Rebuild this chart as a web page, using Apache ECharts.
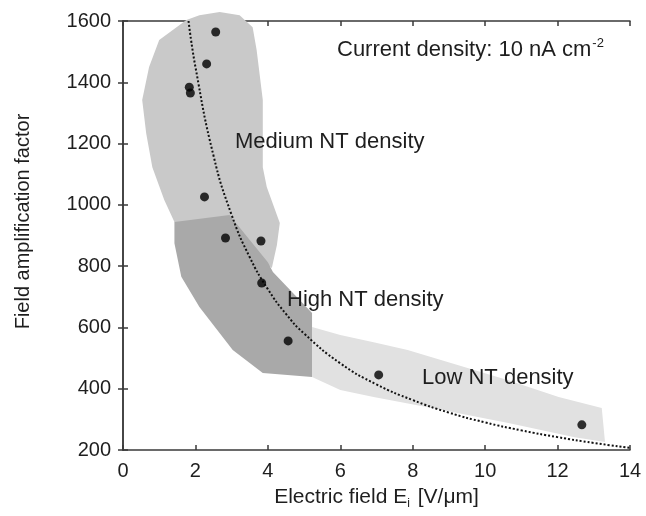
<!DOCTYPE html>
<html>
<head>
<meta charset="utf-8">
<script src="https://cdn.jsdelivr.net/npm/echarts@6/dist/echarts.min.js"></script>
<style>
  html, body { margin: 0; padding: 0; background: #fff; }
  #chart { width: 646px; height: 516px; }
</style>
</head>
<body>
<div id="chart"></div>
<script>
// measured points [E field, amplification factor]
var measured = [
    [2.56, 1564], [2.31, 1460], [1.83, 1384], [1.86, 1365],
    [2.25, 1026], [2.83, 892], [3.81, 882], [3.83, 745],
    [4.56, 556], [7.06, 445], [12.67, 282]
];
// dotted fit curve
var fitCurve = [
    [1.81, 1600], [2.0, 1450], [2.5, 1160], [3.0, 967], [3.5, 829],
    [4.0, 725], [4.5, 644], [5.0, 580], [6.0, 483], [7.0, 414],
    [8.0, 363], [9.0, 322], [10.0, 290], [11.0, 264], [12.0, 242],
    [13.0, 223], [14.0, 207]
];
// shaded regions (outline vertices)
var mediumRegion = [
    [1.75, 1603], [2.11, 1619], [2.67, 1629], [3.22, 1619], [3.58, 1580],
    [3.69, 1505], [3.86, 1342], [3.86, 1123], [3.97, 1058], [4.33, 941],
    [4.25, 869], [4.11, 794], [3.5, 853], [1.42, 944], [1.14, 1016],
    [0.81, 1123], [0.64, 1234], [0.53, 1342], [0.72, 1450], [1.0, 1538]
];
var highRegion = [
    [1.42, 944], [2.94, 967], [3.5, 885], [4.0, 813], [4.14, 781],
    [5.22, 647], [5.22, 438], [3.86, 451], [3.03, 526], [2.11, 667],
    [1.61, 765], [1.42, 875]
];
var lowRegion = [
    [5.22, 601], [6.0, 575], [6.92, 552], [7.86, 526], [8.78, 494],
    [10.64, 428], [12.03, 373], [13.22, 337], [13.31, 226], [12.47, 242],
    [10.64, 288], [8.78, 331], [6.92, 373], [6.0, 396], [5.22, 438]
];
var xTicks = [0, 2, 4, 6, 8, 10, 12, 14];
var yTicks = [200, 400, 600, 800, 1000, 1200, 1400, 1600];

var font = 'Liberation Sans, Arial, sans-serif';
var axisColor = '#3a3a3a';
var textColor = '#1e1e1e';

function regionSeries(points, color, z) {
    return {
        type: 'custom',
        z: z,
        silent: true,
        data: [0],
        renderItem: function (params, api) {
            var pts = points.map(function (p) { return api.coord(p); });
            return {
                type: 'polygon',
                shape: { points: pts },
                style: { fill: color, stroke: null }
            };
        }
    };
}

function note(txt, x, y) {
    return {
        type: 'text', x: x, y: y, z: 10,
        style: { text: txt, fontFamily: font, fontSize: 22, fill: textColor, verticalAlign: 'middle' }
    };
}

var frameAxis = {
    axisLine: { show: true, lineStyle: { color: axisColor, width: 1.5 } },
    axisTick: { show: true, inside: true, length: 5, lineStyle: { color: axisColor, width: 1.5 } },
    splitLine: { show: false }
};

var chart = echarts.init(document.getElementById('chart'));
chart.setOption({
    animation: false,
    backgroundColor: '#fff',
    grid: { left: 123, right: 16, top: 21, bottom: 66 },
    xAxis: [
        Object.assign({
            type: 'value', min: xTicks[0], max: xTicks[xTicks.length - 1], interval: 2,
            name: '{t|Electric field E}{s|i}{t| [V/\u03bcm]}',
            nameLocation: 'middle', nameGap: 34,
            nameTextStyle: {
                rich: {
                    t: { fontFamily: font, fontSize: 21, color: textColor },
                    s: { fontFamily: font, fontSize: 12, color: textColor, padding: [14, 2, 0, 0] }
                }
            },
            axisLabel: { fontFamily: font, fontSize: 20, color: textColor, margin: 11 }
        }, frameAxis),
        Object.assign({
            type: 'value', position: 'top', min: xTicks[0], max: xTicks[xTicks.length - 1], interval: 2,
            axisLabel: { show: false }
        }, frameAxis)
    ],
    yAxis: [
        Object.assign({
            type: 'value', min: yTicks[0], max: yTicks[yTicks.length - 1], interval: 200,
            name: 'Field amplification factor',
            nameLocation: 'middle', nameGap: 90,
            nameTextStyle: { fontFamily: font, fontSize: 20, color: textColor, padding: [0, 0, 0, 28] },
            axisLabel: {
                fontFamily: font, fontSize: 20, color: textColor, margin: 12,
                formatter: function (v) { return String(v); }
            }
        }, frameAxis),
        Object.assign({
            type: 'value', position: 'right', min: yTicks[0], max: yTicks[yTicks.length - 1], interval: 200,
            axisLabel: { show: false }
        }, frameAxis)
    ],
    series: [
        regionSeries(mediumRegion, '#c9c9c9', 1),
        regionSeries(highRegion, '#a9a9a9', 2),
        regionSeries(lowRegion, '#e1e1e1', 3),
        {
            type: 'line',
            z: 5,
            data: fitCurve,
            smooth: true,
            showSymbol: false,
            lineStyle: { color: '#111', width: 2, type: [2, 2] }
        },
        {
            type: 'scatter',
            z: 6,
            data: measured,
            symbol: 'circle',
            symbolSize: 9,
            itemStyle: { color: '#000' }
        }
    ],
    graphic: [
        {
            type: 'text', x: 337, y: 50, z: 10,
            style: {
                text: '{t|Current density: 10 nA cm}{s|-2}',
                verticalAlign: 'middle',
                rich: {
                    t: { fontFamily: font, fontSize: 22, fill: textColor },
                    s: { fontFamily: font, fontSize: 13, fill: textColor, padding: [0, 0, 14, 1] }
                }
            }
        },
        note('Medium NT density', 235, 142),
        note('High NT density', 287, 300),
        note('Low NT density', 422, 378)
    ]
});
</script>
</body>
</html>
